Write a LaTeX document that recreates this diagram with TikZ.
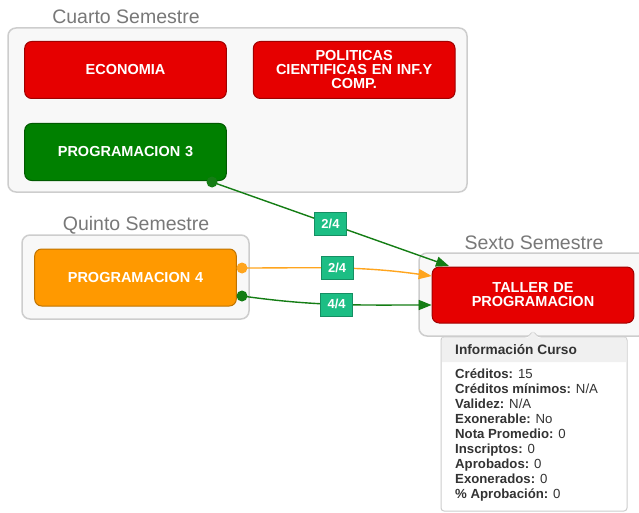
\documentclass[tikz,border=0pt]{standalone}
\usepackage{fontspec}
\setmainfont{Liberation Sans}
\usetikzlibrary{positioning,arrows.meta}

\definecolor{course-red}{RGB}{230,0,0}
\definecolor{course-green}{RGB}{0,128,0}
\definecolor{course-orange}{RGB}{255,153,0}
\definecolor{link-green}{RGB}{20,125,20}
\definecolor{link-orange}{RGB}{255,165,30}
\definecolor{ratio-teal}{RGB}{28,190,132}
\definecolor{group-fill}{RGB}{248,248,248}
\definecolor{group-line}{RGB}{205,205,205}
\definecolor{title-gray}{RGB}{120,120,120}
\definecolor{tip-text}{RGB}{51,51,51}

\tikzstyle{course} = [draw, line width=1pt, rounded corners=7pt, minimum width=201pt, minimum height=57pt, text width=195pt, align=center, text=white, font=\fontsize{14.5}{14}\selectfont\bfseries]
\tikzstyle{red-course} = [course, fill=course-red, draw=course-red!70!black]
\tikzstyle{green-course} = [course, fill=course-green, draw=course-green!70!black]
\tikzstyle{orange-course} = [course, fill=course-orange, draw=course-orange!75!black]
\tikzstyle{semgroup} = [draw=group-line, fill=group-fill, line width=1.5pt, rounded corners=8pt]
\tikzstyle{semtitle} = [text=title-gray, font=\fontsize{19.5}{19.5}\selectfont, inner sep=0pt]
\tikzstyle{ratio} = [fill=ratio-teal, draw=ratio-teal!75!black, line width=0.6pt, minimum width=32pt, minimum height=23pt, inner sep=0pt, text=white, font=\fontsize{13}{13}\selectfont\bfseries]
\tikzstyle{link} = [line width=1.4pt, -{Triangle[length=13pt,width=10pt]}]
\tikzstyle{green-link} = [link, link-green]
\tikzstyle{orange-link} = [link, link-orange]

\begin{document}
\begin{tikzpicture}[x=1pt, y=-1pt]
	\clip (0,0) rectangle (639,513);
	\fill[white] (0,0) rectangle (639,513);

	% semester groups
	\node[semgroup, minimum width=459pt, minimum height=164pt] (cuarto) at (237.5,110) {};
	\node[semgroup, minimum width=227pt, minimum height=84pt] (quinto) at (135.5,277) {};
	\node[semgroup, minimum width=228pt, minimum height=83pt] (sexto) at (533,294.5) {};
	\node[semtitle] (cuarto-title) at (126,17) {Cuarto Semestre};
	\node[semtitle] (quinto-title) at (136,225) {Quinto Semestre};
	\node[semtitle] (sexto-title) at (534,243) {Sexto Semestre};

	% courses
	\node[red-course] (economia) at (125.5,70) {ECONOMIA};
	\node[red-course, right=26pt of economia] (politicas) {POLITICAS\\CIENTIFICAS EN INF.Y\\COMP.};
	\node[green-course, below=24pt of economia] (prog3) {PROGRAMACION 3};
	\node[orange-course] (prog4) at (135.5,277.5) {PROGRAMACION 4};
	\node[red-course, minimum width=200pt, minimum height=56pt] (taller) at (533,295) {TALLER DE\\PROGRAMACION};

	% tooltip
	\draw[draw=group-line, fill=white, line width=1pt, rounded corners=3pt]
		(441,337) -- (528,337) -- (533,331) -- (538,337) -- (627,337) -- (627,511) -- (441,511) -- cycle;
	\fill[black!6] (442,337.7) -- (528,337.7) -- (533,331.8) -- (538,337.7) -- (626,337.7) -- (626,362) -- (442,362) -- cycle;
	\node[anchor=west, inner sep=0pt, text=tip-text, font=\fontsize{13.7}{15}\selectfont\bfseries] (info-head) at (455,349.5) {Información Curso};
	\node[anchor=north west, inner sep=0pt, align=left, text=tip-text, font=\fontsize{13.2}{15}\selectfont] (info-body) at (455,369) {%
		\textbf{Créditos:} 15\\
		\textbf{Créditos mínimos:} N/A\\
		\textbf{Validez:} N/A\\
		\textbf{Exonerable:} No\\
		\textbf{Nota Promedio:} 0\\
		\textbf{Inscriptos:} 0\\
		\textbf{Aprobados:} 0\\
		\textbf{Exonerados:} 0\\
		\textbf{\% Aprobación:} 0};

	% prerequisites
	\coordinate (prog3-out) at (212,182);
	\coordinate (prog4-out1) at (242,268);
	\coordinate (prog4-out2) at (242,296);
	\coordinate (taller-in1) at (449,266);

	\draw[green-link] (prog3-out) -- node[ratio] (r1) {2/4} (taller-in1);
	\draw[orange-link] (prog4-out1) to[out=0, in=172] node[ratio] (r2) {2/4} ([yshift=19pt]taller.west);
	\draw[green-link] (prog4-out2) to[out=-8, in=180] node[ratio] (r3) {4/4} ([yshift=-10pt]taller.west);

	\fill[link-green] (prog3-out) circle (5.5pt);
	\fill[link-orange] (prog4-out1) circle (5.5pt);
	\fill[link-green] (prog4-out2) circle (5.5pt);
\end{tikzpicture}
\end{document}
